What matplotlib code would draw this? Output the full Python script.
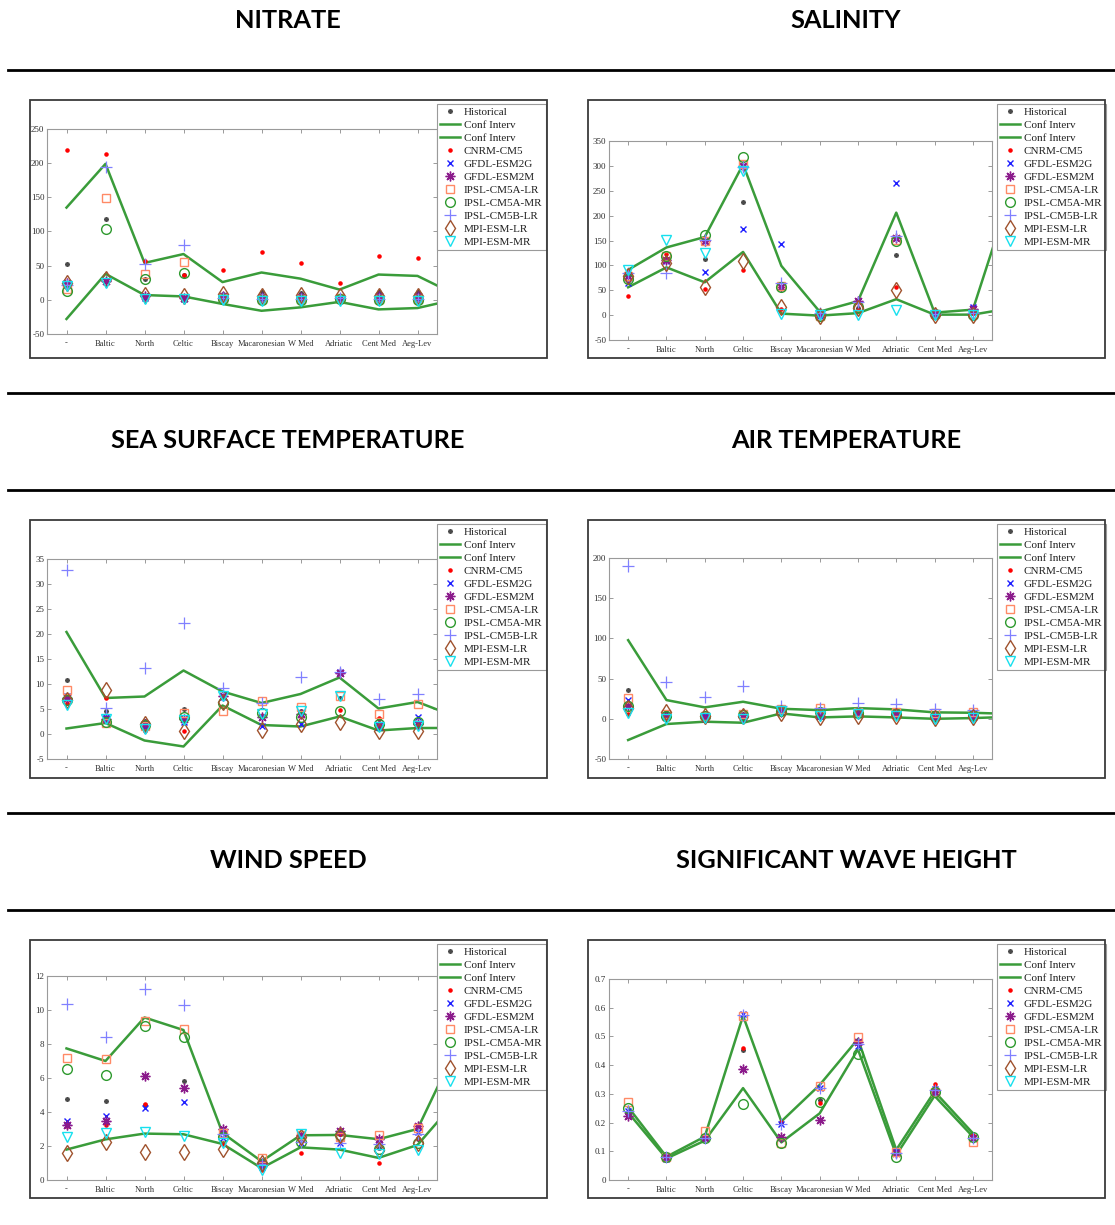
import numpy as np
import matplotlib
matplotlib.use("Agg")
import matplotlib.pyplot as plt
from matplotlib.lines import Line2D
from matplotlib.patches import Rectangle

# ---------------------------------------------------------------- data
REGIONS = ['-', 'Baltic', 'North', 'Celtic', 'Biscay', 'Macaronesian',
           'W Med', 'Adriatic', 'Cent Med', 'Aeg-Lev']
MODELS = ['CNRM-CM5', 'GFDL-ESM2G', 'GFDL-ESM2M', 'IPSL-CM5A-LR',
          'IPSL-CM5A-MR', 'IPSL-CM5B-LR', 'MPI-ESM-LR', 'MPI-ESM-MR']
NAN = np.nan

# Nitrate
nitrate_hist = [53, 118, 30, 37, 9, 11, 10, 3, 11, 11]
nitrate_ci_up = [135, 199, 54, 67, 26, 40, 31, 15, 37, 35, 7]
nitrate_ci_lo = [-28, 38, 7, 5, -6, -16, -11, -3, -14, -12, 1]
nitrate_models = [
    [219, 213, 57, 37, 43, 70, 54, 24, 64, 61],
    [22, 27, 3, 1, 2, 1, 1, 2, 1, 1],
    [24, 28, 5, 3, 5, 4, 4, 3, 5, 5],
    [16, 149, 38, 55, 2, 1, 1, 2, 1, 1],
    [13, 103, 30, 39, 1, 0, 0, 1, 0, 0],
    [22, 194, 52, 80, 2, 1, 1, 3, 1, 1],
    [25, 30, 7, 5, 9, 6, 7, 5, 6, 6],
    [20, 25, 1, 1, 0, -1, -1, -1, -1, -1],
]

# Salinity
salinity_hist = [85, 113, 112, 227, 57, 3, 15, 121, 5, 8]
salinity_ci_up = [91, 136, 157, 303, 99, 7, 28, 206, 5, 11, 249]
salinity_ci_lo = [56, 96, 66, 127, 3, -1, 4, 32, 1, 1, 14]
salinity_models = [
    [39, 123, 52, 91, 13, 0, 10, 57, 3, 5],
    [64, 109, 86, 173, 143, -1, 28, 265, 1, 16],
    [78, 110, 150, 300, 57, 3, 28, 155, 3, 12],
    [79, 118, 149, 303, 58, -1, 17, 151, 2, 2],
    [73, 119, 162, 317, 56, -1, 16, 150, 2, 1],
    [85, 84, 151, 298, 64, 4, 27, 159, 3, 5],
    [79, 104, 56, 109, 16, -1, 14, 50, 1, 1],
    [91, 151, 125, 290, 2, 0, 1, 11, 0, 0],
]

# Sea surface temperature
sst_hist = [10.8, 4.7, 2.7, 5.1, 7.5, 3.6, 4.6, 7.3, 3.0, 2.0]
sst_ci_up = [20.4, 7.2, 7.5, 12.7, 8.5, 6.2, 8.0, 11.3, 5.1, 6.4, 3.4]
sst_ci_lo = [1.1, 2.2, -1.3, -2.5, 5.7, 1.8, 1.5, 3.5, 0.7, 1.2, 1.2]
sst_models = [
    [6.2, 7.2, 0.7, 0.7, 7.4, 3.6, 4.3, 4.9, 3.2, 1.5],
    [7.7, 3.5, 1.5, 2.5, 7.5, 1.7, 2.1, 12.4, 1.5, 3.5],
    [7.3, 3.0, 2.0, 3.0, 7.6, 3.5, 4.0, 12.2, 1.9, 2.0],
    [8.9, 2.2, 1.7, 4.2, 4.7, 6.6, 5.4, 7.7, 4.1, 6.1],
    [6.9, 2.5, 1.8, 3.5, 6.3, 4.2, 3.5, 4.6, 2.0, 2.5],
    [32.8, 5.3, 13.2, 22.2, 9.3, 6.3, 11.4, 12.4, 7.0, 8.0],
    [6.9, 8.9, 2.1, 0.7, 6.4, 0.9, 2.1, 2.5, 0.7, 0.7],
    [5.9, 3.0, 1.0, 2.9, 7.7, 4.0, 4.7, 7.7, 1.4, 1.7],
]

# Air temperature
air_hist = [35.7, 8, 5, 6, 10, 8, 8, 7, 5, 5]
air_ci_up = [97.8, 23.3, 14.2, 21.2, 12.5, 10.8, 13.3, 11.7, 8.0, 7.5, 6]
air_ci_lo = [-26.4, -6.5, -3.6, -4.9, 6.7, 1.7, 3.0, 1.7, 0.0, 0.9, 2.5]
air_models = [
    [5.5, 2, 1, 2, 8, 3, 5, 4, 1, 1],
    [23, 4, 3, 4, 10, 5, 7, 6, 3, 3],
    [16, 2, 1, 2, 9, 4, 6, 5, 2, 2],
    [26, 6, 4, 6, 12, 13, 9, 8, 7, 8],
    [16, 4, 3, 5, 10, 8, 7, 6, 4, 5],
    [189.7, 46, 27, 41, 16, 13, 20, 18, 12, 11],
    [14, 8.8, 3, 4, 7, 2, 4, 3, 1, 2],
    [6.7, 0, 1, 0, 10, 3, 6, 4, 0, 1],
]

# Wind speed
wind_hist = [4.77, 4.67, 4.4, 5.83, 2.8, 1.0, 2.5, 2.7, 1.9, 2.4]
wind_ci_up = [7.74, 7.0, 9.56, 8.82, 2.77, 1.1, 2.63, 2.65, 2.4, 3.0, 7.8]
wind_ci_lo = [1.79, 2.39, 2.73, 2.69, 2.12, 0.70, 1.92, 1.79, 1.30, 2.06, 4.7]
wind_models = [
    [3.2, 3.24, 4.48, 5.4, 2.14, 0.6, 1.6, 2.7, 1.0, 2.45],
    [3.45, 3.75, 4.26, 4.6, 2.5, 0.76, 2.2, 2.2, 2.33, 2.82],
    [3.26, 3.5, 6.13, 5.4, 2.98, 1.0, 2.63, 2.88, 2.43, 3.18],
    [7.17, 7.09, 9.35, 8.86, 2.79, 1.27, 2.63, 2.53, 2.63, 3.08],
    [6.54, 6.2, 9.07, 8.39, 2.53, 0.96, 2.26, 2.63, 1.84, 2.16],
    [10.35, 8.42, 11.21, 10.27, 2.73, 0.96, 2.22, 2.18, 2.14, 2.73],
    [1.61, 2.22, 1.67, 1.63, 1.84, 1.0, 2.53, 2.63, 1.78, 2.18],
    [2.53, 2.77, 2.8, 2.57, 2.18, 0.57, 2.73, 1.59, 1.55, 1.79],
]

# Significant wave height
swh_hist = [0.235, 0.08, 0.147, 0.453, 0.198, 0.279, 0.48, 0.095, 0.32, 0.15]
swh_ci_up = [0.254, 0.081, 0.151, 0.572, 0.204, 0.331, 0.491, 0.105, 0.308, 0.163]
swh_ci_lo = [0.235, 0.075, 0.137, 0.320, 0.131, 0.232, 0.455, 0.087, 0.293, 0.151]
swh_models = [
    [0.23, 0.08, 0.145, 0.459, 0.203, 0.267, 0.48, 0.09, 0.335, 0.157],
    [0.242, 0.073, 0.151, 0.579, 0.194, 0.322, 0.467, 0.101, 0.317, 0.145],
    [0.224, 0.079, 0.145, 0.388, 0.149, 0.209, 0.479, 0.093, 0.308, 0.148],
    [0.27, 0.081, 0.171, 0.572, 0.128, 0.326, 0.499, 0.099, 0.308, 0.133],
    [0.25, 0.081, 0.145, 0.264, 0.128, 0.273, 0.438, 0.081, 0.306, 0.151],
    [0.24, 0.08, 0.147, 0.575, 0.195, 0.32, 0.472, 0.095, 0.312, 0.146],
    [NAN] * 10,
    [NAN] * 10,
]

# ---------------------------------------------------------------- styles
W, H = 1115, 1225
SERIF = 'Liberation Serif'
CI_COLOR = '#3a9c3a'
ASTERISK = (8, 2, 0)  # eight-spoke asterisk
MODEL_STYLE = [
    dict(marker='.', color='#ff0000', ms=4.5, mfc='#ff0000'),
    dict(marker='x', color='#1f1fff', ms=5, mew=1.0),
    dict(marker=ASTERISK, color='#8b1a8b', ms=7, mew=1.0),
    dict(marker='s', color='#ff8a66', ms=6, mfc='none', mew=1.0),
    dict(marker='o', color='#2e9a2e', ms=7, mfc='none', mew=1.0),
    dict(marker='+', color='#8080ff', ms=8, mew=0.9),
    dict(marker='d', color='#a0522d', ms=8, mfc='none', mew=1.0),
    dict(marker='v', color='#16e0ee', ms=7, mfc='none', mew=1.0),
]

fig = plt.figure(figsize=(W / 100, H / 100), dpi=100)
fig.patch.set_facecolor('white')


def fx(px):
    return px / W


def fy(py):
    return 1 - py / H


# titles and separator rules
TITLES = [('NITRATE', 288, 20), ('SALINITY', 846, 20),
          ('SEA SURFACE TEMPERATURE', 288, 440), ('AIR TEMPERATURE', 846, 440),
          ('WIND SPEED', 288, 860), ('SIGNIFICANT WAVE HEIGHT', 846, 860)]
for text, cx, cy in TITLES:
    fig.text(fx(cx), fy(cy), text, ha='center', va='center',
             family='Lato', fontweight='bold', fontsize=18.3, color='black')
for ry in [70, 393, 490, 813, 910]:
    fig.add_artist(Line2D([fx(8), 1.0], [fy(ry), fy(ry)], color='black', lw=2))


def panel(frame, axbox, legend_xy, ylim, yticks, hist, ci_up, ci_lo, models):
    fl, ft, fr, fb = frame
    fig.add_artist(Rectangle((fx(fl), fy(fb)), (fr - fl) / W, (fb - ft) / H,
                             transform=fig.transFigure, fill=False,
                             edgecolor='#3a3a3a', lw=1.3))
    l, t, r, b = axbox
    ax = fig.add_axes([fx(l), fy(b), (r - l) / W, (b - t) / H])
    ax.set_facecolor('white')

    pos = np.arange(1, len(REGIONS) + 1)
    handles = []
    h, = ax.plot(pos, hist, linestyle='none', marker=ASTERISK, ms=3.5, mew=0.8,
                 color='#4a4a4a', zorder=3, label='Historical')
    handles.append(h)
    cpos = np.arange(1, len(ci_up) + 1)
    h1, = ax.plot(cpos, ci_up, color=CI_COLOR, lw=1.8, zorder=4, label='Conf Interv')
    h2, = ax.plot(cpos, ci_lo, color=CI_COLOR, lw=1.8, zorder=4, label='Conf Interv')
    handles += [h1, h2]
    for i, (name, vals) in enumerate(zip(MODELS, models)):
        st = MODEL_STYLE[i]
        hm, = ax.plot(pos, vals, linestyle='none', zorder=5 + i, label=name, **st)
        handles.append(hm)

    ax.set_xlim(0.5, 10.5)
    ax.set_ylim(*ylim)
    ax.set_xticks(pos)
    ax.set_xticklabels(REGIONS)
    ax.set_yticks(yticks)
    ax.set_yticklabels([('%g' % v) for v in yticks])
    ax.tick_params(direction='in', length=3, width=0.6, color='#8a8a8a',
                   top=True, right=True, labelsize=6.5, labelcolor='#303030',
                   pad=2)
    ax.tick_params(axis='x', pad=4, labelsize=6.1)
    for lab in ax.get_xticklabels() + ax.get_yticklabels():
        lab.set_family(SERIF)
    for sp in ax.spines.values():
        sp.set_color('#9a9a9a')
        sp.set_linewidth(0.8)

    lx, ly = legend_xy
    leg = ax.legend(handles=handles, loc='upper left',
                    bbox_to_anchor=(fx(lx), fy(ly)), bbox_transform=fig.transFigure,
                    prop=dict(family=SERIF, size=8), frameon=True, fancybox=False,
                    edgecolor='#9a9a9a', framealpha=1, borderpad=0.3,
                    labelspacing=0.29, handlelength=1.8, handletextpad=0.3,
                    borderaxespad=0, markerscale=1.0)
    leg.get_frame().set_linewidth(0.8)
    for t in leg.get_texts():
        t.set_color('#202020')
    return ax


LEFT = (30, 547)
RIGHT = (588, 1105)

panel((LEFT[0], 100, LEFT[1], 358), (47, 129, 437, 334), (437, 104),
      (-50, 250), np.arange(-50, 251, 50),
      nitrate_hist, nitrate_ci_up, nitrate_ci_lo, nitrate_models)
panel((RIGHT[0], 100, RIGHT[1], 358), (609, 141, 992, 340), (997, 104),
      (-50, 350), np.arange(-50, 351, 50),
      salinity_hist, salinity_ci_up, salinity_ci_lo, salinity_models)
panel((LEFT[0], 520, LEFT[1], 778), (47, 559, 437, 759), (437, 524),
      (-5, 35), np.arange(-5, 36, 5),
      sst_hist, sst_ci_up, sst_ci_lo, sst_models)
panel((RIGHT[0], 520, RIGHT[1], 778), (609, 558, 992, 759), (997, 524),
      (-50, 200), np.arange(-50, 201, 50),
      air_hist, air_ci_up, air_ci_lo, air_models)
panel((LEFT[0], 940, LEFT[1], 1198), (47, 976, 437, 1180), (437, 944),
      (0, 12), np.arange(0, 13, 2),
      wind_hist, wind_ci_up, wind_ci_lo, wind_models)
panel((RIGHT[0], 940, RIGHT[1], 1198), (609, 979, 992, 1180), (997, 944),
      (0, 0.7), np.round(np.arange(0, 0.71, 0.1), 1),
      swh_hist, swh_ci_up, swh_ci_lo, swh_models)

fig.savefig('out.png', dpi=100, facecolor='white')
